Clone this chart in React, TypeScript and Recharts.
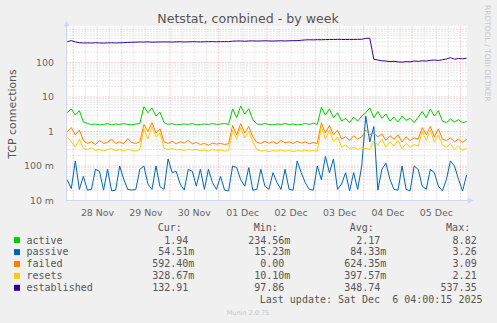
import React from 'react';
import { LineChart, Line, XAxis, YAxis, CartesianGrid, ReferenceLine } from 'recharts';

// Samples every 2 hours, hour 0 = 28 Nov 00:00
const START_HOUR = -3;
const STEP_HOURS = 2;

const active = [
  3.5, 4.5, 3.0, 4.0, 1.9, 1.7, 1.6, 1.65, 1.55, 1.6,
  1.7, 1.55, 1.65, 1.6, 1.7, 1.6, 1.55, 1.65, 1.7, 5.2,
  3.5, 4.8, 2.8, 3.6, 1.8, 1.6, 1.7, 1.55, 1.6, 1.65,
  1.6, 1.7, 1.55, 1.6, 1.65, 1.6, 1.7, 1.6, 1.65, 1.7,
  1.6, 4.5, 2.5, 5.5, 3.2, 4.6, 2.2, 1.65, 1.6, 1.7,
  1.6, 1.55, 1.65, 1.6, 1.7, 1.6, 1.65, 1.55, 1.6, 1.7,
  1.6, 1.75, 1.6, 5.0, 3.0, 4.5, 2.5, 3.5, 2.0, 2.4,
  1.8, 2.6, 2.0, 2.8, 3.5, 4.8, 2.5, 3.8, 2.4, 3.2,
  2.0, 2.6, 1.9, 2.8, 2.1, 2.4, 1.8, 2.6, 3.8, 2.5,
  4.5, 2.8, 4.0, 2.0, 1.8, 2.3, 1.9, 2.2, 1.8, 1.94,
];

const passive = [
  0.04, 0.022, 0.14, 0.021, 0.05, 0.02, 0.021, 0.08, 0.07, 0.02,
  0.08, 0.019, 0.02, 0.1, 0.041, 0.021, 0.02, 0.021, 0.08, 0.1,
  0.03, 0.021, 0.1, 0.025, 0.021, 0.16, 0.064, 0.07, 0.03, 0.02,
  0.08, 0.07, 0.026, 0.08, 0.021, 0.08, 0.033, 0.021, 0.05, 0.02,
  0.019, 0.1, 0.09, 0.04, 0.026, 0.09, 0.02, 0.021, 0.08, 0.026,
  0.021, 0.064, 0.033, 0.021, 0.08, 0.021, 0.02, 0.14, 0.064, 0.033,
  0.021, 0.02, 0.1, 0.04, 0.19, 0.064, 0.16, 0.021, 0.03, 0.064,
  0.019, 0.064, 0.021, 0.1, 2.8, 0.5, 1.4, 0.02, 0.08, 0.12,
  0.041, 0.021, 0.02, 0.1, 0.021, 0.019, 0.1, 0.08, 0.026, 0.021,
  0.08, 0.064, 0.026, 0.019, 0.041, 0.14, 0.1, 0.041, 0.019, 0.0545,
];

const failed = [
  1.0, 1.3, 0.8, 1.1, 0.55, 0.45, 0.5, 0.42, 0.55, 0.45,
  0.48, 0.6, 0.45, 0.5, 0.44, 0.62, 0.48, 0.45, 0.5, 1.6,
  1.0, 1.8, 0.9, 1.2, 0.5, 0.45, 0.52, 0.44, 0.5, 0.46,
  0.55, 0.44, 0.48, 0.42, 0.45, 0.4, 0.46, 0.43, 0.45, 0.42,
  0.44, 1.5, 0.8, 1.7, 0.9, 1.4, 0.7, 0.48, 0.45, 0.52,
  0.46, 0.5, 0.44, 0.55, 0.47, 0.5, 0.45, 0.52, 0.46, 0.5,
  0.44, 0.48, 0.45, 1.8, 0.9, 1.5, 0.8, 1.1, 0.6, 0.7,
  0.55, 0.75, 0.6, 0.7, 1.1, 0.8, 0.9, 0.7, 0.85, 0.55,
  0.75, 0.6, 0.8, 0.5, 0.7, 0.55, 0.65, 0.6, 1.3, 0.8,
  1.4, 0.7, 1.2, 0.6, 0.55, 0.65, 0.5, 0.6, 0.48, 0.59,
];

const resets = [
  0.7, 0.5, 0.35, 0.6, 0.32, 0.3, 0.34, 0.28, 0.3, 0.27,
  0.3, 0.32, 0.28, 0.3, 0.27, 0.31, 0.28, 0.27, 0.3, 1.2,
  0.6, 1.4, 0.7, 0.9, 0.33, 0.3, 0.32, 0.29, 0.3, 0.28,
  0.31, 0.29, 0.3, 0.28, 0.29, 0.27, 0.3, 0.28, 0.29, 0.27,
  0.28, 1.1, 0.6, 1.3, 0.65, 1.0, 0.5, 0.3, 0.27, 0.28,
  0.26, 0.28, 0.27, 0.29, 0.27, 0.28, 0.26, 0.28, 0.27, 0.29,
  0.27, 0.28, 0.27, 1.4, 0.6, 1.1, 0.5, 0.7, 0.35, 0.4,
  0.32, 0.35, 0.3, 0.34, 0.32, 0.3, 0.55, 0.4, 0.6, 0.35,
  0.5, 0.38, 0.55, 0.32, 0.45, 0.35, 0.42, 0.38, 1.0, 0.55,
  1.1, 0.5, 0.8, 0.4, 0.35, 0.45, 0.3, 0.38, 0.28, 0.33,
];

const established = [
  400, 430, 395, 372, 368, 370, 366, 372, 368, 365,
  370, 372, 368, 370, 375, 380, 385, 388, 392, 390,
  395, 388, 390, 392, 395, 393, 390, 395, 398, 392,
  395, 400, 398, 395, 398, 400, 402, 398, 400, 402,
  400, 415, 418, 420, 412, 420, 422, 418, 420, 425,
  420, 418, 422, 425, 420, 425, 428, 430, 440, 450,
  455, 452, 458, 455, 460, 465, 462, 468, 465, 462,
  466, 465, 468, 470, 500, 505, 124, 118, 112, 110,
  106, 108, 104, 102, 106, 104, 110, 108, 112, 110,
  115, 118, 114, 120, 126, 138, 125, 130, 128, 132.91,
];

const dayLabels = ['28 Nov', '29 Nov', '30 Nov', '01 Dec', '02 Dec', '03 Dec', '04 Dec', '05 Dec'];
const dayLabelHours = [12, 36, 60, 84, 108, 132, 156, 180];
const yTicks = [0.01, 0.1, 1, 10, 100];
const yTickLabels = ['10 m', '100 m', '1', '10', '100'];

const seriesKeys = ['active', 'passive', 'failed', 'resets', 'established'];
const seriesColors = ['#00CC00', '#0066B3', '#FF8000', '#FFCC00', '#330099'];
const curVals = ['1.94', '54.51m', '592.40m', '328.67m', '132.91'];
const minVals = ['234.56m', '15.23m', '0.00', '10.10m', '97.86'];
const avgVals = ['2.17', '84.33m', '624.35m', '397.57m', '348.74'];
const maxVals = ['8.82', '3.26', '3.09', '2.21', '537.35'];
const statHeaders = ['Cur:', 'Min:', 'Avg:', 'Max:'];

const X_DOMAIN: [number, number] = [-3.37, 195.2];
const Y_DOMAIN: [number, number] = [0.01, 1140];

// grid positions
const majorX: number[] = [];
const minorX: number[] = [];
for (let h = 0; h <= 195; h += 6) (h % 24 === 0 ? majorX : minorX).push(h);
const minorY: number[] = [];
[0.01, 0.1, 1, 10, 100].forEach((d) => {
  for (let k = 2; k <= 9; k++) minorY.push(+(d * k).toPrecision(3));
});
minorY.push(1000);

const MINOR = '#CFCFCF';
const MAJOR = '#F2A6A6';
const FONT = '"DejaVu Sans", sans-serif';
const MONO = '"DejaVu Sans Mono", monospace';

const colNumEnd = [188.3, 284.3, 380.3, 476.7];
const statCols = [curVals, minVals, avgVals, maxVals];

function splitUnit(s: string): [string, string] {
  const m = s.match(/^([0-9.]+)([a-zA-Z]?)$/);
  return m ? [m[1], m[2]] : [s, ''];
}

export default function App() {
  const data = active.map((v, i) => ({
    h: START_HOUR + i * STEP_HOURS,
    active: v,
    passive: passive[i],
    failed: failed[i],
    resets: resets[i],
    established: established[i],
  }));
  const rowBase = [243.5, 255.4, 267.3, 279.2, 291.1];
  return (
    <div style={{ position: 'absolute', left: 0, top: 0, width: 497, height: 323, background: '#F0F0F0', fontFamily: FONT }}>
      <LineChart width={497} height={323} data={data} margin={{ top: 26, right: 30, bottom: 102.5, left: 6.5 }}>
        <CartesianGrid fill="#FFFFFF" horizontal={false} vertical={false} stroke="none" />
        {minorY.map((v) => (
          <ReferenceLine key={'my' + v} y={v} stroke={MINOR} strokeDasharray="1 2" strokeWidth={1} />
        ))}
        {minorX.map((v) => (
          <ReferenceLine key={'mx' + v} x={v} stroke={MINOR} strokeDasharray="1 2" strokeWidth={1} />
        ))}
        {yTicks.map((v) => (
          <ReferenceLine key={'My' + v} y={v} stroke={MAJOR} strokeDasharray="1 2" strokeWidth={1} />
        ))}
        {majorX.map((v) => (
          <ReferenceLine key={'Mx' + v} x={v} stroke={MAJOR} strokeDasharray="1 2" strokeWidth={1} />
        ))}
        <XAxis
          dataKey="h"
          type="number"
          domain={X_DOMAIN}
          allowDataOverflow
          ticks={dayLabelHours}
          interval={0}
          tickFormatter={(v: number) => dayLabels[dayLabelHours.indexOf(v)]}
          height={20}
          tickLine={false}
          tickSize={0}
          tickMargin={9}
          axisLine={{ stroke: '#CFD6F8' }}
          tick={{ fill: '#666666', fontSize: 9.4 }}
        />
        <YAxis
          type="number"
          scale="log"
          domain={Y_DOMAIN}
          allowDataOverflow
          ticks={yTicks}
          interval={0}
          width={60}
          tickFormatter={(v: number) => yTickLabels[yTicks.indexOf(v)]}
          tickLine={false}
          tickSize={0}
          tickMargin={12.5}
          axisLine={{ stroke: '#CFD6F8' }}
          tick={{ fill: '#666666', fontSize: 9.4 }}
        />
        {seriesKeys.map((k, i) => (
          <Line
            key={k}
            type="linear"
            dataKey={k}
            stroke={seriesColors[i]}
            strokeWidth={1}
            dot={false}
            activeDot={false}
            isAnimationActive={false}
          />
        ))}
      </LineChart>
      <svg width={497} height={323} style={{ position: 'absolute', left: 0, top: 0, pointerEvents: 'none' }}>
        {/* axis arrows */}
        <line x1={467} y1={200.5} x2={470} y2={200.5} stroke="#CFD6F8" />
        <polygon points="468,197.5 473.5,200.5 468,203.5" fill="#CFD6F8" />
        <polygon points="63.5,26.5 66.5,21 69.5,26.5" fill="#CFD6F8" />
        <text x={248} y={22.5} textAnchor="middle" fontSize={12.6} fill="#555555" fontFamily={FONT}>
          Netstat, combined - by week
        </text>
        <text x={15.5} y={114} textAnchor="middle" fontSize={10.9} fill="#555555" fontFamily={FONT} transform="rotate(-90 15.5 114)">
          TCP connections
        </text>
        <text x={485} y={5} fontSize={7.5} fill="#C8C8C8" fontFamily={FONT} transform="rotate(90 485 5)">
          RRDTOOL / TOBI OETIKER
        </text>
        {statHeaders.map((h, c) => (
          <text key={h} x={colNumEnd[c] - 6.5} y={231} textAnchor="end" fontSize={10} fill="#555555" fontFamily={MONO}>
            {h}
          </text>
        ))}
        {seriesKeys.map((k, r) => (
          <g key={k}>
            <rect x={14} y={rowBase[r] - 6.3} width={6} height={6} fill={seriesColors[r]} />
            <text x={26.5} y={rowBase[r]} fontSize={10} fill="#555555" fontFamily={MONO}>
              {k}
            </text>
            {statCols.map((col, c) => {
              const [num, unit] = splitUnit(col[r]);
              return (
                <g key={c}>
                  <text x={colNumEnd[c]} y={rowBase[r]} textAnchor="end" fontSize={10} fill="#555555" fontFamily={MONO}>
                    {num}
                  </text>
                  {unit && (
                    <text x={colNumEnd[c]} y={rowBase[r]} fontSize={10} fill="#555555" fontFamily={MONO}>
                      {unit}
                    </text>
                  )}
                </g>
              );
            })}
          </g>
        ))}
        <text x={482.5} y={303} textAnchor="end" fontSize={10} fill="#555555" fontFamily={MONO} style={{ whiteSpace: 'pre' }}>
          {'Last update: Sat Dec  6 04:00:15 2025'}
        </text>
        <text x={248} y={314.8} textAnchor="middle" fontSize={6.5} fill="#C8C8C8" fontFamily={FONT}>
          Munin 2.0.75
        </text>
      </svg>
    </div>
  );
}
